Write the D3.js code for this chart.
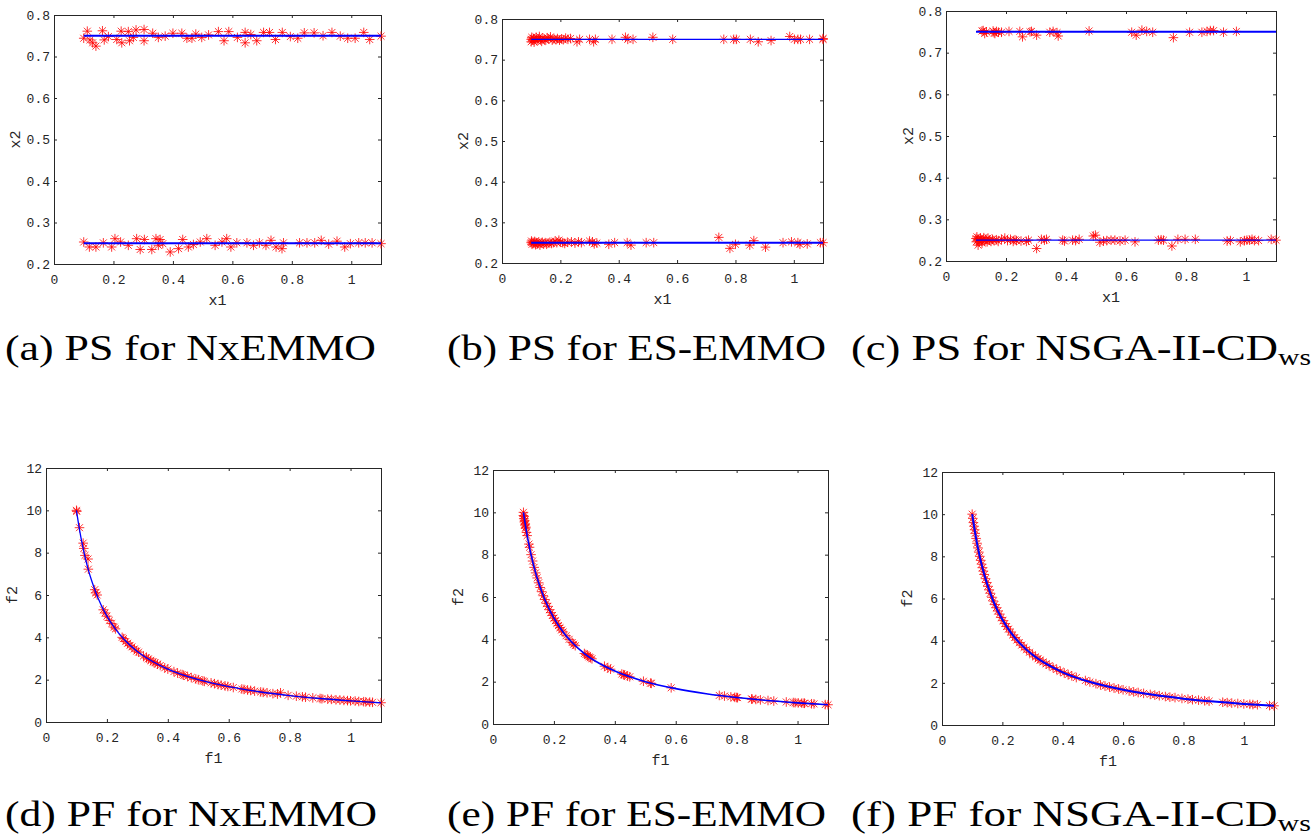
<!DOCTYPE html>
<html>
<head>
<meta charset="utf-8">
<script src="https://cdn.jsdelivr.net/npm/d3@7"></script>
<style>
  html, body { margin: 0; padding: 0; background: #fff; }
  svg { display: block; }
</style>
</head>
<body>
<div id="chart-container"></div>
<script>
(function() {
'use strict';

const W = 1314;
const H = 836;

// tick values
const psXTicks = [0, 0.2, 0.4, 0.6, 0.8, 1];
const psYTicks = [0.2, 0.3, 0.4, 0.5, 0.6, 0.7, 0.8];
const pfXTicks = [0, 0.2, 0.4, 0.6, 0.8, 1];
const pfYTicks = [0, 2, 4, 6, 8, 10, 12];

// true Pareto set: two horizontal segments
const psTrueX = [0.1, 1.1];
const psTrueUpper = [0.75, 0.75];
const psTrueLower = [0.25, 0.25];

// true Pareto front
const pfTrueF1 = [0.1, 0.11, 0.12, 0.13, 0.14, 0.15, 0.17, 0.2, 0.23, 0.26, 0.3, 0.35, 0.4, 0.5, 0.6, 0.7, 0.8, 0.9, 1.0, 1.1];
const pfTrueF2 = [10, 9.09, 8.33, 7.69, 7.14, 6.67, 5.88, 5.0, 4.35, 3.85, 3.33, 2.86, 2.5, 2.0, 1.67, 1.43, 1.25, 1.11, 1.0, 0.91];

// NxEMMO solutions [x1, x2]
const nxUpper = [[0.1,0.744],[0.112,0.761],[0.121,0.740],[0.130,0.733],[0.141,0.725],[0.163,0.762],[0.169,0.740],[0.183,0.748],[0.211,0.741],[0.226,0.761],[0.228,0.733],[0.250,0.760],[0.254,0.738],[0.267,0.746],[0.276,0.764],[0.303,0.765],[0.303,0.738],[0.332,0.756],[0.351,0.746],[0.374,0.749],[0.400,0.756],[0.430,0.756],[0.447,0.744],[0.464,0.744],[0.477,0.754],[0.497,0.746],[0.520,0.752],[0.553,0.760],[0.572,0.738],[0.588,0.760],[0.617,0.746],[0.643,0.758],[0.643,0.733],[0.662,0.753],[0.682,0.738],[0.705,0.758],[0.725,0.758],[0.745,0.741],[0.768,0.758],[0.795,0.748],[0.820,0.744],[0.842,0.757],[0.875,0.757],[0.905,0.750],[0.935,0.758],[0.963,0.749],[0.988,0.744],[1.013,0.744],[1.042,0.758],[1.062,0.741],[1.1,0.749]];
const nxLower = [[0.1,0.253],[0.119,0.241],[0.141,0.241],[0.166,0.251],[0.194,0.241],[0.205,0.261],[0.224,0.253],[0.250,0.245],[0.278,0.261],[0.290,0.235],[0.304,0.259],[0.329,0.235],[0.343,0.261],[0.351,0.245],[0.357,0.259],[0.366,0.249],[0.391,0.229],[0.419,0.237],[0.433,0.259],[0.452,0.241],[0.469,0.247],[0.492,0.253],[0.514,0.261],[0.542,0.245],[0.565,0.253],[0.581,0.261],[0.595,0.241],[0.615,0.251],[0.649,0.251],[0.671,0.245],[0.691,0.251],[0.713,0.245],[0.730,0.257],[0.747,0.241],[0.767,0.237],[0.772,0.251],[0.826,0.251],[0.851,0.251],[0.877,0.251],[0.899,0.257],[0.924,0.248],[0.952,0.255],[0.978,0.241],[0.997,0.249],[1.025,0.251],[1.047,0.251],[1.070,0.251],[1.1,0.249]];

// ES-EMMO solutions
const esUpper = [[0.1,0.75],[0.1,0.744],[0.102,0.755],[0.105,0.748],[0.108,0.752],[0.11,0.743],[0.113,0.75],[0.117,0.755],[0.12,0.747],[0.124,0.751],[0.128,0.757],[0.132,0.749],[0.136,0.745],[0.14,0.753],[0.145,0.75],[0.15,0.748],[0.155,0.754],[0.16,0.751],[0.166,0.756],[0.172,0.748],[0.178,0.751],[0.185,0.749],[0.19,0.752],[0.197,0.748],[0.204,0.751],[0.21,0.749],[0.218,0.753],[0.226,0.75],[0.235,0.752],[0.257,0.744],[0.266,0.75],[0.3,0.75],[0.314,0.744],[0.32,0.75],[0.377,0.75],[0.423,0.755],[0.431,0.75],[0.449,0.75],[0.517,0.755],[0.585,0.75],[0.76,0.75],[0.794,0.75],[0.803,0.75],[0.851,0.75],[0.878,0.744],[0.922,0.747],[0.986,0.757],[1.002,0.75],[1.014,0.75],[1.023,0.75],[1.054,0.75],[1.1,0.752],[1.1,0.75]];
const esLower = [[0.1,0.25],[0.101,0.254],[0.103,0.246],[0.106,0.251],[0.109,0.248],[0.112,0.253],[0.115,0.245],[0.118,0.25],[0.122,0.247],[0.126,0.252],[0.13,0.244],[0.134,0.249],[0.138,0.251],[0.143,0.247],[0.148,0.25],[0.153,0.246],[0.158,0.249],[0.164,0.251],[0.17,0.248],[0.176,0.25],[0.182,0.254],[0.188,0.25],[0.195,0.256],[0.2,0.251],[0.208,0.25],[0.215,0.248],[0.224,0.251],[0.238,0.252],[0.25,0.249],[0.262,0.252],[0.272,0.25],[0.3,0.254],[0.31,0.252],[0.316,0.247],[0.325,0.249],[0.366,0.246],[0.386,0.25],[0.429,0.25],[0.442,0.244],[0.494,0.25],[0.52,0.25],[0.743,0.263],[0.781,0.236],[0.8,0.246],[0.849,0.244],[0.863,0.255],[0.903,0.239],[0.963,0.25],[0.992,0.252],[1.014,0.25],[1.021,0.246],[1.046,0.247],[1.091,0.25],[1.1,0.25]];

// NSGA-II-CDws solutions
const nsUpper = [[0.12,0.752],[0.124,0.753],[0.129,0.746],[0.135,0.75],[0.157,0.752],[0.16,0.748],[0.163,0.746],[0.168,0.751],[0.175,0.749],[0.185,0.749],[0.21,0.751],[0.246,0.751],[0.255,0.738],[0.28,0.75],[0.285,0.751],[0.302,0.742],[0.346,0.749],[0.357,0.751],[0.37,0.748],[0.374,0.74],[0.477,0.752],[0.619,0.749],[0.634,0.742],[0.653,0.754],[0.669,0.751],[0.689,0.749],[0.758,0.736],[0.812,0.749],[0.853,0.749],[0.87,0.751],[0.881,0.753],[0.892,0.753],[0.925,0.749],[0.968,0.751]];
const nsLower = [[0.1,0.254],[0.101,0.246],[0.103,0.258],[0.105,0.25],[0.107,0.238],[0.109,0.252],[0.112,0.247],[0.115,0.255],[0.118,0.249],[0.12,0.243],[0.123,0.251],[0.126,0.256],[0.13,0.248],[0.133,0.252],[0.137,0.246],[0.14,0.255],[0.145,0.25],[0.15,0.247],[0.155,0.252],[0.16,0.249],[0.168,0.251],[0.174,0.247],[0.185,0.252],[0.196,0.255],[0.205,0.249],[0.215,0.252],[0.224,0.247],[0.23,0.251],[0.235,0.249],[0.25,0.248],[0.268,0.247],[0.275,0.25],[0.302,0.23],[0.318,0.252],[0.328,0.25],[0.335,0.252],[0.389,0.25],[0.395,0.248],[0.422,0.25],[0.432,0.249],[0.444,0.252],[0.491,0.26],[0.498,0.262],[0.513,0.245],[0.525,0.248],[0.536,0.249],[0.55,0.25],[0.563,0.25],[0.58,0.248],[0.597,0.25],[0.63,0.246],[0.708,0.25],[0.717,0.251],[0.725,0.25],[0.753,0.236],[0.773,0.252],[0.797,0.252],[0.831,0.252],[0.937,0.248],[0.948,0.249],[0.981,0.246],[0.995,0.249],[1.003,0.25],[1.012,0.25],[1.02,0.252],[1.028,0.249],[1.042,0.249],[1.084,0.252],[1.1,0.25]];

// obtained fronts [f1, f2]
const nxFront = [[0.1,10.0],[0.101,9.95],[0.11,9.18],[0.122,8.45],[0.124,8.2],[0.128,7.87],[0.138,7.7],[0.139,7.22],[0.16,6.25],[0.163,6.1],[0.168,6.0],[0.188,5.3],[0.194,5.15],[0.2,5.0],[0.208,4.8],[0.216,4.65],[0.224,4.48],[0.228,4.4],[0.25,4.0],[0.254,3.94],[0.262,3.8],[0.268,3.72],[0.276,3.62],[0.282,3.55],[0.29,3.45],[0.298,3.35],[0.304,3.3],[0.32,3.12],[0.33,3.03],[0.336,2.98],[0.344,2.9],[0.352,2.84],[0.358,2.8],[0.366,2.73],[0.375,2.67],[0.39,2.56],[0.4,2.5],[0.42,2.38],[0.432,2.31],[0.447,2.24],[0.452,2.21],[0.465,2.15],[0.477,2.1],[0.492,2.03],[0.5,2.0],[0.515,1.94],[0.52,1.92],[0.542,1.85],[0.553,1.81],[0.565,1.77],[0.575,1.74],[0.588,1.7],[0.597,1.68],[0.615,1.63],[0.643,1.56],[0.65,1.54],[0.662,1.51],[0.672,1.49],[0.685,1.46],[0.705,1.42],[0.713,1.4],[0.726,1.38],[0.745,1.34],[0.76,1.32],[0.77,1.38],[0.795,1.26],[0.822,1.22],[0.842,1.19],[0.852,1.17],[0.876,1.14],[0.9,1.11],[0.906,1.1],[0.925,1.08],[0.937,1.07],[0.952,1.05],[0.965,1.04],[0.978,1.02],[0.99,1.01],[1.0,1.0],[1.015,0.99],[1.027,0.97],[1.043,0.96],[1.05,0.95],[1.063,0.94],[1.072,0.93],[1.1,0.91]];
const esFront = [[0.1,10.0],[0.1,9.85],[0.101,9.7],[0.102,9.8],[0.103,9.55],[0.104,9.62],[0.105,9.4],[0.106,9.45],[0.107,9.25],[0.108,9.3],[0.11,9.05],[0.112,8.9],[0.118,8.5],[0.12,8.35],[0.125,8.0],[0.13,7.7],[0.135,7.4],[0.14,7.14],[0.145,6.9],[0.15,6.67],[0.155,6.45],[0.16,6.25],[0.165,6.06],[0.17,5.88],[0.175,5.7],[0.18,5.56],[0.185,5.4],[0.19,5.26],[0.195,5.13],[0.2,5.0],[0.205,4.88],[0.21,4.76],[0.215,4.65],[0.22,4.55],[0.225,4.44],[0.23,4.35],[0.24,4.17],[0.25,4.0],[0.26,3.85],[0.265,3.77],[0.27,3.7],[0.3,3.33],[0.305,3.28],[0.31,3.23],[0.315,3.17],[0.32,3.13],[0.325,3.08],[0.366,2.73],[0.377,2.65],[0.386,2.59],[0.423,2.36],[0.429,2.33],[0.431,2.32],[0.442,2.26],[0.449,2.23],[0.494,2.02],[0.517,1.93],[0.52,1.92],[0.585,1.71],[0.743,1.35],[0.76,1.32],[0.781,1.28],[0.794,1.26],[0.8,1.25],[0.803,1.245],[0.849,1.18],[0.851,1.175],[0.863,1.16],[0.878,1.14],[0.903,1.11],[0.922,1.085],[0.963,1.04],[0.986,1.014],[0.992,1.008],[1.002,0.998],[1.014,0.986],[1.021,0.98],[1.023,0.978],[1.046,0.956],[1.054,0.949],[1.091,0.917],[1.1,0.909]];
const nsFront = [[0.1,10.0],[0.102,9.8],[0.104,9.6],[0.106,9.43],[0.108,9.26],[0.11,9.09],[0.113,8.85],[0.116,8.62],[0.119,8.4],[0.122,8.2],[0.125,8.0],[0.128,7.81],[0.131,7.63],[0.134,7.46],[0.137,7.3],[0.14,7.14],[0.144,6.94],[0.148,6.76],[0.152,6.58],[0.156,6.41],[0.16,6.25],[0.165,6.06],[0.17,5.88],[0.175,5.71],[0.18,5.56],[0.185,5.41],[0.19,5.26],[0.196,5.1],[0.202,4.95],[0.208,4.81],[0.214,4.67],[0.22,4.55],[0.227,4.41],[0.234,4.27],[0.241,4.15],[0.248,4.03],[0.256,3.91],[0.264,3.79],[0.272,3.68],[0.28,3.57],[0.29,3.45],[0.3,3.33],[0.31,3.23],[0.318,3.14],[0.325,3.08],[0.335,2.99],[0.345,2.9],[0.355,2.82],[0.368,2.72],[0.38,2.63],[0.392,2.55],[0.405,2.47],[0.418,2.39],[0.43,2.33],[0.445,2.25],[0.475,2.11],[0.49,2.04],[0.51,1.96],[0.525,1.9],[0.54,1.85],[0.555,1.8],[0.57,1.75],[0.585,1.71],[0.6,1.67],[0.62,1.61],[0.635,1.57],[0.65,1.54],[0.668,1.5],[0.69,1.45],[0.705,1.42],[0.72,1.39],[0.74,1.35],[0.755,1.32],[0.772,1.3],[0.795,1.26],[0.815,1.23],[0.83,1.2],[0.85,1.18],[0.87,1.15],[0.885,1.13],[0.93,1.08],[0.945,1.06],[0.96,1.04],[0.98,1.02],[1.0,1.0],[1.02,0.98],[1.03,0.97],[1.045,0.96],[1.085,0.92],[1.1,0.91]];

// captions
const captions = ['(a) PS for NxEMMO', '(b) PS for ES-EMMO', '(c) PS for NSGA-II-CD',
                  '(d) PF for NxEMMO', '(e) PF for ES-EMMO', '(f) PF for NSGA-II-CD'];
const captionSub = ['', '', 'ws', '', '', 'ws'];

const AXIS_COLOR = '#262626';
const MONO = '"Liberation Mono", "DejaVu Sans Mono", monospace';
const SERIF = '"Liberation Serif", "DejaVu Serif", serif';

const panels = [
  { kind: 'ps', box: [54, 381, 15, 264], upper: nxUpper, lower: nxLower, lw: [2, 2], capX: 5, capW: 371, capY: 360, labOff: 39 },
  { kind: 'ps', box: [502, 823, 19, 263], upper: esUpper, lower: esLower, lw: [1.2, 2], capX: 447, capW: 379, capY: 360, labOff: 39 },
  { kind: 'ps', box: [946, 1276, 11, 261], upper: nsUpper, lower: nsLower, lw: [2, 1.2], capX: 851, capW: 460, capY: 360, labOff: 38 },
  { kind: 'pf', box: [46, 381, 468, 722], front: nxFront, lw: 1.3, capX: 5, capW: 372, capY: 826, labOff: 34 },
  { kind: 'pf', box: [493, 828, 470, 724], front: esFront, lw: 1.6, capX: 447, capW: 379, capY: 826, labOff: 35 },
  { kind: 'pf', box: [942, 1274, 472, 725], front: nsFront, lw: 2, capX: 851, capW: 460, capY: 826, labOff: 35 }
];

const svg = d3.select('#chart-container')
  .append('svg')
    .attr('width', W)
    .attr('height', H);

// MATLAB style '*' marker
function starPath(r) {
  const a = r * 0.72;
  return `M${-r},0L${r},0M0,${-r}L0,${r}M${-a},${-a}L${a},${a}M${-a},${a}L${a},${-a}`;
}

function styleTicks(g, size) {
  g.select('.domain').remove();
  g.selectAll('.tick line').attr('stroke', AXIS_COLOR);
  g.selectAll('.tick text')
    .attr('fill', AXIS_COLOR)
    .style('font-family', MONO)
    .style('font-size', size + 'px');
}

function drawPanel(p, i) {
  const [x0, x1, y0, y1] = p.box;
  const isPS = p.kind === 'ps';

  const xScale = d3.scaleLinear().domain([0, 1.1]).range([x0, x1]);
  const yScale = isPS
    ? d3.scaleLinear().domain([0.2, 0.8]).range([y1, y0])
    : d3.scaleLinear().domain([0, 12]).range([y1, y0]);

  const xTicks = isPS ? psXTicks : pfXTicks;
  const yTicks = isPS ? psYTicks : pfYTicks;
  const fmt = (d) => String(+d.toFixed(2));

  const g = svg.append('g').attr('class', 'panel-' + i);

  g.append('g')
    .attr('transform', `translate(0, ${y1})`)
    .call(d3.axisBottom(xScale).tickValues(xTicks).tickFormat(fmt).tickSizeInner(-3).tickSizeOuter(0).tickPadding(11))
    .call(styleTicks, 13);
  g.append('g')
    .attr('transform', `translate(0, ${y0})`)
    .call(d3.axisTop(xScale).tickValues(xTicks).tickFormat('').tickSizeInner(-3).tickSizeOuter(0))
    .call(styleTicks, 13);
  g.append('g')
    .attr('transform', `translate(${x0}, 0)`)
    .call(d3.axisLeft(yScale).tickValues(yTicks).tickFormat(isPS ? d3.format('.1f') : fmt).tickSizeInner(-3).tickSizeOuter(0).tickPadding(4))
    .call(styleTicks, 13);
  g.append('g')
    .attr('transform', `translate(${x1}, 0)`)
    .call(d3.axisRight(yScale).tickValues(yTicks).tickFormat('').tickSizeInner(-3).tickSizeOuter(0))
    .call(styleTicks, 13);

  g.append('rect')
    .attr('x', x0 + 0.5)
    .attr('y', y0 + 0.5)
    .attr('width', x1 - x0)
    .attr('height', y1 - y0)
    .attr('fill', 'none')
    .attr('stroke', AXIS_COLOR)
    .attr('stroke-width', 1);

  // markers
  const pts = isPS ? p.upper.concat(p.lower) : p.front;
  g.append('g')
    .selectAll('path')
    .data(pts)
    .enter()
    .append('path')
      .attr('d', starPath(4.8))
      .attr('transform', (d) => `translate(${xScale(d[0])}, ${yScale(d[1])})`)
      .attr('fill', 'none')
      .attr('stroke', '#ff0000')
      .attr('stroke-opacity', 0.8)
      .attr('stroke-width', 1);

  // true set / front
  const line = d3.line().x((d) => xScale(d[0])).y((d) => yScale(d[1]));
  if (isPS) {
    g.append('path')
      .attr('d', line(psTrueX.map((x, k) => [x, psTrueUpper[k]])))
      .attr('fill', 'none').attr('stroke', '#0000ff').attr('stroke-width', p.lw[0]);
    g.append('path')
      .attr('d', line(psTrueX.map((x, k) => [x, psTrueLower[k]])))
      .attr('fill', 'none').attr('stroke', '#0000ff').attr('stroke-width', p.lw[1]);
  } else {
    g.append('path')
      .attr('d', line.curve(d3.curveMonotoneX)(pfTrueF1.map((x, k) => [x, pfTrueF2[k]])))
      .attr('fill', 'none').attr('stroke', '#0000ff').attr('stroke-width', p.lw);
  }

  // axis labels
  g.append('text')
    .attr('x', (x0 + x1) / 2)
    .attr('y', y1 + 41)
    .attr('text-anchor', 'middle')
    .attr('fill', AXIS_COLOR)
    .style('font-family', MONO)
    .style('font-size', '15px')
    .text(isPS ? 'x1' : 'f1');
  g.append('text')
    .attr('transform', `translate(${x0 - p.labOff + 5}, ${(y0 + y1) / 2}) rotate(-90)`)
    .attr('text-anchor', 'middle')
    .attr('fill', AXIS_COLOR)
    .style('font-family', MONO)
    .style('font-size', '15px')
    .text(isPS ? 'x2' : 'f2');

  // caption
  const cap = svg.append('text')
    .attr('x', p.capX)
    .attr('y', p.capY)
    .attr('fill', '#000')
    .attr('textLength', p.capW)
    .attr('lengthAdjust', 'spacingAndGlyphs')
    .style('font-family', SERIF)
    .style('font-size', '36px')
    .text(captions[i]);
  if (captionSub[i]) {
    cap.append('tspan')
      .attr('dy', 5)
      .style('font-size', '24px')
      .text(captionSub[i]);
  }
}

panels.forEach(drawPanel);

})();
</script>
</body>
</html>
